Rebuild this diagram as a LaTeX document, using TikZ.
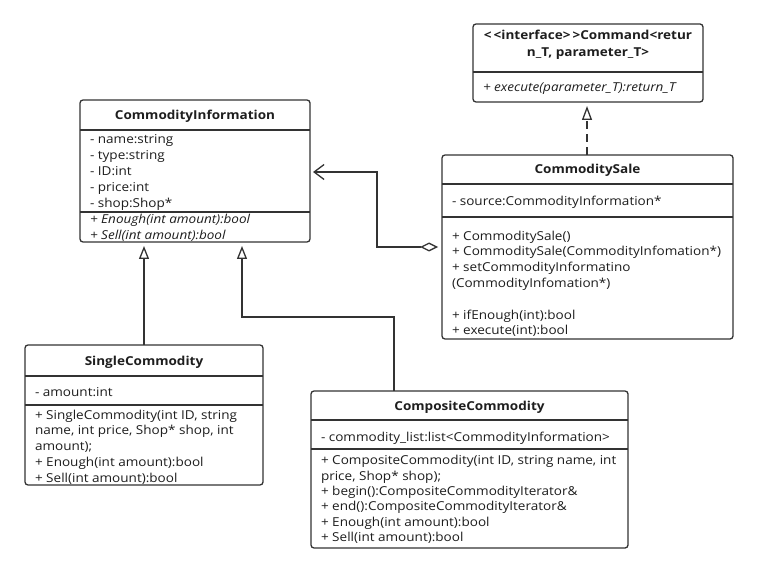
\documentclass[tikz,border=0pt]{standalone}
\usepackage{fontspec}
\setmainfont{Open Sans}[FakeStretch=1.1]
\usetikzlibrary{arrows.meta}
\definecolor{linec}{RGB}{51,51,51}
\definecolor{txtc}{RGB}{30,30,30}
\newcommand{\fsz}{\fontsize{12.3}{15.8}\selectfont}
\tikzset{
  cls/.style={draw=linec, line width=1.3pt, rounded corners=3pt, inner sep=0pt, outer sep=0pt, anchor=north west},
  txt/.style={anchor=north west, inner sep=0pt, outer sep=0pt, align=left, text=txtc, font=\fsz},
  hdr/.style={anchor=base, inner sep=0pt, outer sep=0pt, align=center, text=txtc, font=\fsz\bfseries},
  conn/.style={draw=linec, line width=1.3pt},
  gen/.style={conn, -{Triangle[open, length=13pt, width=10pt]}, shorten >=4pt},
}
\begin{document}
\begin{tikzpicture}[x=1pt, y=-1pt]
\useasboundingbox[fill=white] (0,0) rectangle (758,572);

% Command
\node[cls, minimum width=230pt, minimum height=78pt] (cmd) at (473,24) {};
\draw[conn] (cmd.west |- 0,72) -- (cmd.east |- 0,72);
\node[anchor=north, inner sep=0pt, align=center, text=txtc, font=\fontsize{12.3}{17}\selectfont\bfseries] (cmdh) at (588,27) {\strut<\,<interface>\,>Command<retur\\n\_T, parameter\_T>};
\node[txt, font=\fsz\itshape] (cmdm) at (483,80) {\strut+ execute(parameter\_T):return\_T};

% CommodityInformation
\node[cls, minimum width=230pt, minimum height=142pt] (ci) at (80,100) {};
\draw[conn] (ci.west |- 0,130) -- (ci.east |- 0,130);
\draw[conn] (ci.west |- 0,212) -- (ci.east |- 0,212);
\node[hdr] (cih) at (195,120) {CommodityInformation};
\node[txt, font=\fontsize{12.3}{16}\selectfont] (cia) at (90,132) {\strut- name:string\\\strut- type:string\\\strut- ID:int\\\strut- price:int\\\strut- shop:Shop*};
\node[txt, font=\fontsize{12.3}{16}\selectfont\itshape] (cim) at (90,212) {\strut+ Enough(int amount):bool\\\strut+ Sell(int amount):bool};

% CommoditySale
\node[cls, minimum width=291pt, minimum height=184pt] (cs) at (442,155) {};
\draw[conn] (cs.west |- 0,184) -- (cs.east |- 0,184);
\draw[conn] (cs.west |- 0,217) -- (cs.east |- 0,217);
\node[hdr] (csh) at (587.5,174) {CommoditySale};
\node[txt] (csa) at (452,194) {\strut- source:CommodityInformation*};
\node[txt] (csm) at (452,229) {\strut+ CommoditySale()\\\strut+ CommoditySale(CommodityInfomation*)\\\strut+ setCommodityInformatino\\\strut(CommodityInfomation*)\\\strut\\\strut+ ifEnough(int):bool\\\strut+ execute(int):bool};

% SingleCommodity
\node[cls, minimum width=238pt, minimum height=140pt] (sc) at (25,345) {};
\draw[conn] (sc.west |- 0,376) -- (sc.east |- 0,376);
\draw[conn] (sc.west |- 0,405) -- (sc.east |- 0,405);
\node[hdr] (sch) at (144,365) {SingleCommodity};
\node[txt] (sca) at (35,385) {\strut- amount:int};
\node[txt] (scm) at (35,408) {\strut+ SingleCommodity(int ID, string\\\strut name, int price, Shop* shop, int\\\strut amount);\\\strut+ Enough(int amount):bool\\\strut+ Sell(int amount):bool};

% CompositeCommodity
\node[cls, minimum width=317pt, minimum height=157pt] (cc) at (311,391) {};
\draw[conn] (cc.west |- 0,420) -- (cc.east |- 0,420);
\draw[conn] (cc.west |- 0,449) -- (cc.east |- 0,449);
\node[hdr] (cch) at (469.5,410) {CompositeCommodity};
\node[txt] (cca) at (321,430) {\strut- commodity\_list:list<CommodityInformation>};
\node[txt, font=\fontsize{12.3}{15.4}\selectfont] (ccm) at (321,454) {\strut+ CompositeCommodity(int ID, string name, int\\\strut price, Shop* shop);\\\strut+ begin():CompositeCommodityIterator\&\\\strut+ end():CompositeCommodityIterator\&\\\strut+ Enough(int amount):bool\\\strut+ Sell(int amount):bool};

% connectors
\draw[conn, dash pattern=on 8pt off 5pt, -{Triangle[open, length=14pt, width=10pt]}, shorten >=4pt] (cs.north -| 587,0) -- (cmd.south -| 587,0);
\coordinate (asb) at (377,247);
\coordinate (ast) at (377,172);
\draw[conn, {Diamond[open, length=18pt, width=9pt]}-{Straight Barb[length=10pt, width=15pt]}, shorten <=4pt, shorten >=3pt]
  (cs.west |- asb) -- (asb) -- (ast) -- (ci.east |- ast);
\draw[gen] (sc.north -| 144,0) -- (ci.south -| 144,0);
\coordinate (ccb) at (394,317);
\coordinate (ccl) at (242,317);
\draw[gen] (cc.north -| ccb) -- (ccb) -- (ccl) -- (ci.south -| ccl);
\end{tikzpicture}
\end{document}
